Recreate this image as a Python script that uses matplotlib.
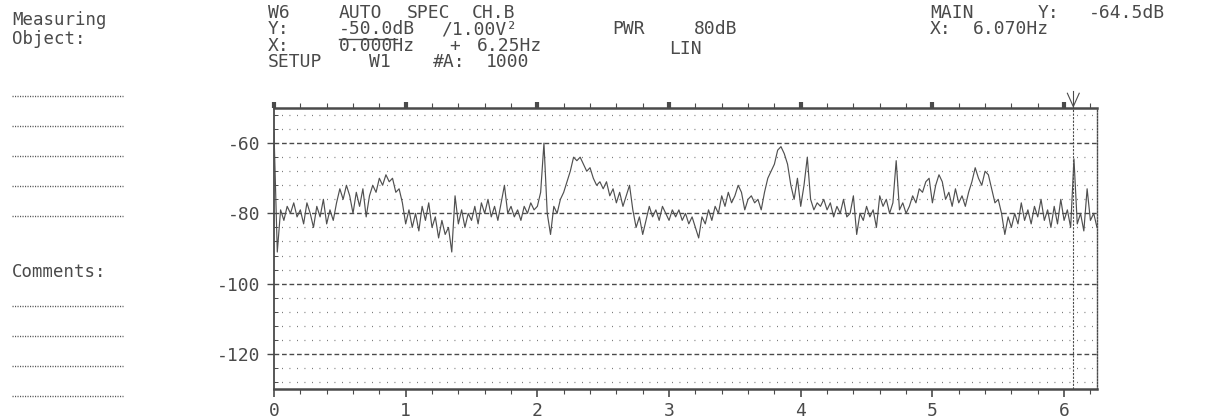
import matplotlib
matplotlib.use("Agg")
import matplotlib.pyplot as plt
import numpy as np
from matplotlib.lines import Line2D

# ---------------- data ----------------
freq_step_hz = 0.025
spec_db = [
    # 0.000 - 0.475 Hz
    -57, -91, -79, -82, -78, -80, -77, -81, -79, -83, -77, -80, -84, -78, -81, -76, -83, -79, -82, -77,
    # 0.500 - 0.975 Hz
    -73, -76, -72, -75, -80, -74, -78, -73, -81, -75, -72, -74, -70, -72, -69, -71, -70, -74, -73, -77,
    # 1.000 - 1.475 Hz
    -83, -79, -84, -80, -85, -78, -82, -77, -84, -81, -87, -82, -86, -84, -91, -75, -83, -79, -84, -80,
    # 1.500 - 1.975 Hz
    -82, -78, -83, -77, -80, -76, -81, -78, -82, -77, -72, -80, -78, -81, -79, -82, -78, -80, -77, -79,
    # 2.000 - 2.475 Hz
    -78, -74, -60, -80, -86, -78, -80, -76, -74, -71, -68, -64, -65, -64, -66, -68, -67, -70, -72, -71,
    # 2.500 - 2.975 Hz
    -73, -71, -75, -73, -77, -74, -78, -75, -72, -79, -84, -81, -86, -82, -78, -81, -79, -82, -78, -80,
    # 3.000 - 3.475 Hz
    -82, -79, -81, -79, -82, -80, -83, -81, -84, -87, -81, -83, -79, -82, -78, -80, -75, -78, -74, -77,
    # 3.500 - 3.975 Hz
    -75, -72, -74, -79, -76, -75, -77, -76, -79, -74, -70, -68, -66, -62, -61, -63, -66, -72, -76, -70,
    # 4.000 - 4.475 Hz
    -78, -72, -64, -76, -79, -77, -78, -76, -79, -77, -81, -78, -80, -76, -81, -80, -75, -86, -80, -82,
    # 4.500 - 4.975 Hz
    -78, -81, -79, -84, -75, -78, -76, -80, -77, -65, -79, -77, -80, -78, -75, -77, -73, -74, -71, -70,
    # 5.000 - 5.475 Hz
    -77, -72, -69, -71, -76, -74, -78, -73, -77, -75, -78, -74, -71, -67, -70, -72, -68, -69, -73, -77,
    # 5.500 - 5.975 Hz
    -76, -80, -86, -81, -84, -80, -83, -77, -82, -79, -83, -78, -81, -76, -82, -79, -84, -78, -83, -76,
    # 6.000 - 6.250 Hz
    -82, -79, -84, -64.5, -83, -80, -85, -73, -82, -80, -84,
]
x_range = [0.0, 6.25]
y_range = [-130, -50]
x_major_ticks = [0, 1, 2, 3, 4, 5, 6]
x_tick_labels = ["0", "1", "2", "3", "4", "5", "6"]
y_major_ticks = [-60, -80, -100, -120]
y_tick_labels = ["-60", "-80", "-100", "-120"]
y_dotted_levels = [-52, -56, -64, -68, -72, -76, -84, -88, -92, -96,
                   -104, -108, -112, -116, -124, -128]
marker_x_hz = 6.070

header_tokens = [
    # (text, x_px, y_px)
    ("W6", 268, 13), ("AUTO", 339, 13), ("SPEC", 407, 13), ("CH.B", 472, 13),
    ("Y:", 268, 29), ("-50.0dB", 339, 29), ("/1.00V²", 441, 29), ("PWR", 612, 29), ("80dB", 694, 29),
    ("X:", 268, 46), ("0.000Hz", 339, 46), ("+", 449, 46), ("6.25Hz", 477, 46), ("LIN", 669, 49),
    ("SETUP", 268, 62), ("W1", 369, 62), ("#A:", 433, 62), ("1000", 486, 62),
    ("MAIN", 930, 13), ("Y:", 1038, 13), ("-64.5dB", 1089, 13),
    ("X:", 930, 29), ("6.070Hz", 973, 29),
]
side_labels = [("Measuring", 12, 20), ("Object:", 12, 39), ("Comments:", 12, 272)]
side_rule_y = [96, 126, 156, 186, 216, 306, 336, 366, 396]

# ---------------- figure ----------------
W, H = 1209, 418
fig = plt.figure(figsize=(W / 100, H / 100), dpi=100)
fig.patch.set_facecolor("white")

def fx(x):
    return x / W

def fy(y):
    return 1 - y / H

INK = "#4a4a4a"
GRID = "#6a6a6a"
MONO = ["DejaVu Sans Mono"]

ax = fig.add_axes([fx(274), fy(389), (1097 - 274) / W, (389 - 108) / H])
ax.set_facecolor("white")
ax.set_xlim(*x_range)
ax.set_ylim(*y_range)

# grid rows
for v in y_dotted_levels:
    ax.axhline(v, color=GRID, lw=0.9, ls=(0, (0.7, 5.3)), zorder=1)
for v in y_major_ticks:
    ax.axhline(v, color=INK, lw=1.0, ls=(0, (3.4, 2.0)), zorder=1)

# spectrum trace
freqs = np.arange(len(spec_db)) * freq_step_hz
ax.plot(freqs, spec_db, color="#505050", lw=0.85, zorder=3)

# marker line and arrow
ax.axvline(marker_x_hz, color=INK, lw=0.8, ls=(0, (2.0, 1.2)), zorder=2)
ax.plot([marker_x_hz - 0.045, marker_x_hz, marker_x_hz + 0.045], [-45.8, -49.6, -45.8],
        color=INK, lw=0.8, clip_on=False)
ax.plot([marker_x_hz, marker_x_hz], [-45.2, -50], color=INK, lw=0.8, clip_on=False)

# spines
for s in ["left", "bottom", "top"]:
    ax.spines[s].set_color(INK)
    ax.spines[s].set_linewidth(1.3)
ax.spines["top"].set_linewidth(1.8)
ax.spines["bottom"].set_linewidth(1.8)
ax.spines["right"].set_color(INK)
ax.spines["right"].set_linewidth(1.0)
ax.spines["right"].set_linestyle((0, (1.0, 1.2)))

# ticks
ax.set_xticks(x_major_ticks)
ax.set_xticklabels(x_tick_labels, family=MONO, fontsize=13, color=INK)
ax.set_xticks([t for t in np.arange(0, 6.25, 0.2) if abs(t - round(t)) > 1e-6], minor=True)
ax.tick_params(axis="x", which="major", direction="out", length=6, width=1.2,
               color=INK, top=True, pad=3)
ax.tick_params(axis="x", which="minor", direction="out", length=3.5, width=0.8,
               color=INK, top=True)
for t in ax.xaxis.get_major_ticks():
    t.tick2line.set_markeredgewidth(3)
    t.tick2line.set_markersize(4)

ax.set_yticks(y_major_ticks)
ax.set_yticklabels(y_tick_labels, family=MONO, fontsize=13, color=INK)
ax.set_yticks(y_dotted_levels, minor=True)
ax.tick_params(axis="y", which="major", direction="out", length=5, width=1.0, color=INK, pad=5)
ax.tick_params(axis="y", which="minor", direction="in", length=3, width=0.7, color=INK)

# header text
for txt, x, y in header_tokens:
    fig.text(fx(x), fy(y), txt, family=MONO, fontsize=13, color=INK, ha="left", va="center")
# underline of the reference level
fig.add_artist(Line2D([fx(339), fx(397)], [fy(38.5), fy(38.5)], color=INK, lw=1.0))

# left side form
for txt, x, y in side_labels:
    fig.text(fx(x), fy(y), txt, family=MONO, fontsize=12.5, color=INK, ha="left", va="center")
for y in side_rule_y:
    fig.add_artist(Line2D([fx(12), fx(123)], [fy(y), fy(y)], color="#555555", lw=1.0,
                          ls=(0, (0.8, 1.0))))

fig.savefig("out.png", dpi=100, facecolor="white")
